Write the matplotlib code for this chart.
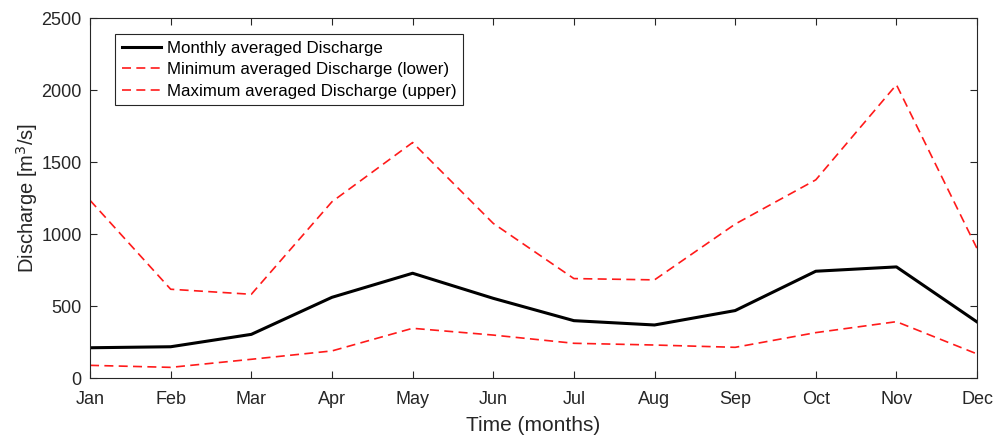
import matplotlib
matplotlib.use("Agg")
import matplotlib.pyplot as plt
import numpy as np

plt.rcParams["font.family"] = ["Liberation Sans", "DejaVu Sans"]

months = ["Jan", "Feb", "Mar", "Apr", "May", "Jun",
          "Jul", "Aug", "Sep", "Oct", "Nov", "Dec"]
q_mean = [212, 219, 305, 562, 729, 555, 400, 370, 470, 743, 773, 391]
q_min = [90, 76, 132, 190, 347, 300, 243, 231, 215, 317, 393, 169]
q_max = [1235, 618, 583, 1225, 1636, 1075, 692, 683, 1070, 1377, 2037, 900]

x = np.arange(len(months))
red_dash = (0, (5.4, 3.2))

fig = plt.figure(figsize=(9.96, 4.37), dpi=100)
ax = fig.add_axes([0.0904, 0.1343, 0.8906, 0.8245])

ax.plot(x, q_mean, color="black", lw=2.2, label="Monthly averaged Discharge")
ax.plot(x, q_min, color="#ff1a1a", lw=1.2, ls=red_dash,
        label="Minimum averaged Discharge (lower)")
ax.plot(x, q_max, color="#ff1a1a", lw=1.2, ls=red_dash,
        label="Maximum averaged Discharge (upper)")

ax.set_xlim(0, 11)
ax.set_ylim(0, 2500)
ax.set_xticks(x)
ax.set_xticklabels(months)
ax.set_yticks(np.arange(0, 2501, 500))
ax.tick_params(direction="in", top=True, right=True, length=5,
               labelsize=13, colors="#262626")
ax.tick_params(axis="x", pad=9)
ax.tick_params(axis="y", pad=6)
for sp in ax.spines.values():
    sp.set_color("#262626")
    sp.set_linewidth(0.8)

ax.set_xlabel("Time (months)", fontsize=15, color="#262626", labelpad=6)
ax.set_ylabel("Discharge [m$^3$/s]", fontsize=14.5, color="#262626", labelpad=1)

leg = ax.legend(loc="upper left", bbox_to_anchor=(0.028, 0.956), borderaxespad=0,
                fontsize=12.2, fancybox=False, edgecolor="#262626", framealpha=1,
                handlelength=2.35, handletextpad=0.3, borderpad=0.4,
                labelspacing=0.38)
leg.get_frame().set_linewidth(0.8)

fig.savefig("out.png", dpi=100)
